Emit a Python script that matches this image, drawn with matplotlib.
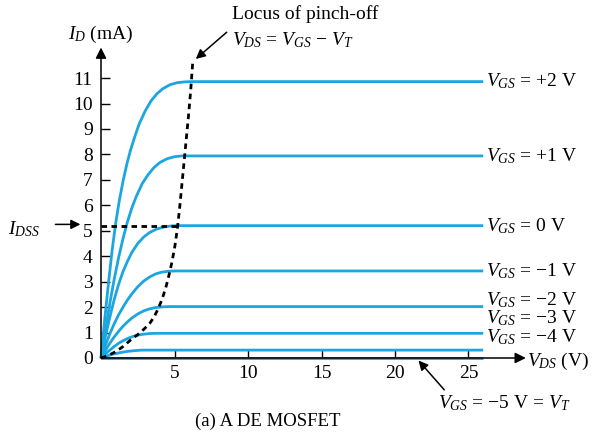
import matplotlib
matplotlib.use('Agg')
import matplotlib.pyplot as plt

plt.rcParams['font.family'] = ['Liberation Serif', 'DejaVu Serif']
plt.rcParams['mathtext.fontset'] = 'custom'
plt.rcParams['mathtext.rm'] = 'Liberation Serif'
plt.rcParams['mathtext.it'] = 'Liberation Serif:italic'

# curves: V_DS (V), I_D (mA), one per V_GS
vgs_labels = ['+2', '+1', '0', '−1', '−2', '−3', '−4']
curve_vds = [
    [0, 0.25, 0.5, 0.75, 1.0, 1.25, 1.5, 1.75, 2.0, 2.3, 2.6, 3.0, 3.4, 3.8, 4.2, 4.7, 5.2, 5.7, 6.2, 26],
    [0, 0.3, 0.6, 0.9, 1.2, 1.5, 1.8, 2.1, 2.4, 2.8, 3.2, 3.6, 4.0, 4.5, 5.0, 5.5, 26],
    [0, 0.3, 0.6, 0.9, 1.2, 1.5, 1.8, 2.1, 2.5, 2.9, 3.3, 3.8, 4.3, 4.8, 5.3, 26],
    [0, 0.3, 0.6, 0.9, 1.2, 1.5, 1.8, 2.1, 2.5, 2.9, 3.3, 3.7, 4.1, 4.6, 5.0, 26],
    [0, 0.3, 0.6, 0.9, 1.2, 1.5, 1.8, 2.1, 2.5, 2.9, 3.3, 3.7, 4.2, 4.6, 26],
    [0, 0.3, 0.6, 0.9, 1.2, 1.5, 1.9, 2.3, 2.8, 3.3, 3.8, 26],
    [0, 0.4, 0.8, 1.3, 1.8, 2.3, 2.8, 26],
]
curve_id = [
    [0, 1.5, 2.9, 4.2, 5.3, 6.2, 6.95, 7.6, 8.15, 8.7, 9.2, 9.7, 10.1, 10.38, 10.58, 10.74, 10.82, 10.85, 10.86, 10.86],
    [0, 1.1, 2.15, 3.1, 3.95, 4.7, 5.35, 5.9, 6.35, 6.85, 7.2, 7.48, 7.68, 7.83, 7.91, 7.94, 7.94],
    [0, 0.85, 1.6, 2.3, 2.9, 3.4, 3.8, 4.15, 4.5, 4.75, 4.93, 5.07, 5.15, 5.19, 5.2, 5.2],
    [0, 0.5, 0.95, 1.35, 1.7, 2.0, 2.28, 2.52, 2.8, 3.02, 3.18, 3.3, 3.37, 3.41, 3.42, 3.42],
    [0, 0.3, 0.58, 0.83, 1.05, 1.25, 1.42, 1.57, 1.73, 1.85, 1.93, 1.98, 2.01, 2.02, 2.02],
    [0, 0.16, 0.31, 0.45, 0.58, 0.68, 0.79, 0.87, 0.93, 0.96, 0.97, 0.97],
    [0, 0.08, 0.15, 0.21, 0.26, 0.29, 0.31, 0.31],
]
cutoff_vds = [0, 26]
cutoff_id = [0, 0]

# locus of pinch-off
locus_vds = [0, 0.5, 1.0, 1.5, 2.0, 2.5, 2.9, 3.3, 3.6, 3.9, 4.15, 4.4, 4.6, 4.8, 5.0,
             5.2, 5.35, 5.5, 5.65, 5.8, 5.95, 6.1, 6.25]
locus_id = [0, 0.1, 0.25, 0.45, 0.7, 0.92, 1.12, 1.35, 1.6, 1.95, 2.3, 2.75, 3.2, 3.7, 4.3,
            5.1, 5.9, 6.8, 7.7, 8.6, 9.5, 10.5, 11.7]
idss = 5.2

xticks = [5, 10, 15, 20, 25]
yticks = list(range(0, 12))

blue = '#1ba6e0'
fs = 14

fig = plt.figure(figsize=(5.93, 4.45), dpi=100)
ax = fig.add_axes([101 / 593, 87 / 445, 29 * 14.7 / 593, 12.2 * 25.45 / 445])
ax.set_xlim(0, 29)
ax.set_ylim(0, 12.2)
for s in ax.spines.values():
    s.set_visible(False)

arrow = dict(arrowstyle='-|>', color='black', lw=1.1, mutation_scale=16, shrinkA=0, shrinkB=0)
small_arrow = dict(arrow, mutation_scale=14)

# axes with arrow heads
ax.annotate('', xy=(28.9, 0), xytext=(0, 0), annotation_clip=False, arrowprops=arrow)
ax.annotate('', xy=(0, 12.2), xytext=(0, 0), annotation_clip=False, arrowprops=arrow)

ax.set_xticks(xticks)
ax.set_yticks(yticks)
ax.tick_params(direction='in', length=6.5, width=1.0, labelsize=fs, pad=5)
ax.tick_params(axis='y', pad=6)

for vx, vy in zip(curve_vds, curve_id):
    ax.plot(vx, vy, color=blue, lw=2.0, clip_on=False, solid_capstyle='butt')
ax.plot(cutoff_vds, cutoff_id, color=blue, lw=2.0, clip_on=False, solid_capstyle='butt')

ax.plot(locus_vds, locus_id, color='black', lw=2.0, dashes=(2.0, 1.6), clip_on=False)
ax.plot([0, 5.2], [idss, idss], color='black', lw=2.0, dashes=(2.0, 1.6), clip_on=False)

# curve labels
label_y = [10.86, 7.94, 5.2, 3.42, 2.27, 1.57, 0.82]
for lab, y in zip(vgs_labels, label_y):
    ax.text(26.2, y, r'$V_{GS}$ = ' + lab + ' V', fontsize=fs, va='center', ha='left',
            clip_on=False)

ax.text(0, 12.7, r'$I_D$ (mA)', fontsize=fs, ha='center', va='center', clip_on=False)
ax.text(29.0, -0.15, r'$V_{DS}$ (V)', fontsize=fs, ha='left', va='center', clip_on=False)

ax.text(8.9, 13.5, 'Locus of pinch-off', fontsize=fs, ha='left', va='center', clip_on=False)
ax.text(8.9, 12.5, r'$V_{DS}$ = $V_{GS}$ − $V_T$', fontsize=fs, ha='left', va='center',
        clip_on=False)
ax.annotate('', xy=(6.45, 11.75), xytext=(8.55, 12.8), annotation_clip=False,
            arrowprops=small_arrow)

ax.text(-6.3, 5.05, r'$I_{DSS}$', fontsize=fs, ha='left', va='center', clip_on=False)
ax.annotate('', xy=(-1.4, 5.25), xytext=(-3.1, 5.25), annotation_clip=False,
            arrowprops=small_arrow)

ax.text(22.9, -1.77, r'$V_{GS}$ = −5 V = $V_T$', fontsize=fs, ha='left', va='center',
        clip_on=False)
ax.annotate('', xy=(21.6, -0.1), xytext=(23.35, -1.25), annotation_clip=False,
            arrowprops=small_arrow)

fig.text(268 / 593, 1 - 421 / 445, '(a) A DE MOSFET', fontsize=13.5, ha='center', va='center')

fig.savefig('out.png', dpi=100)
